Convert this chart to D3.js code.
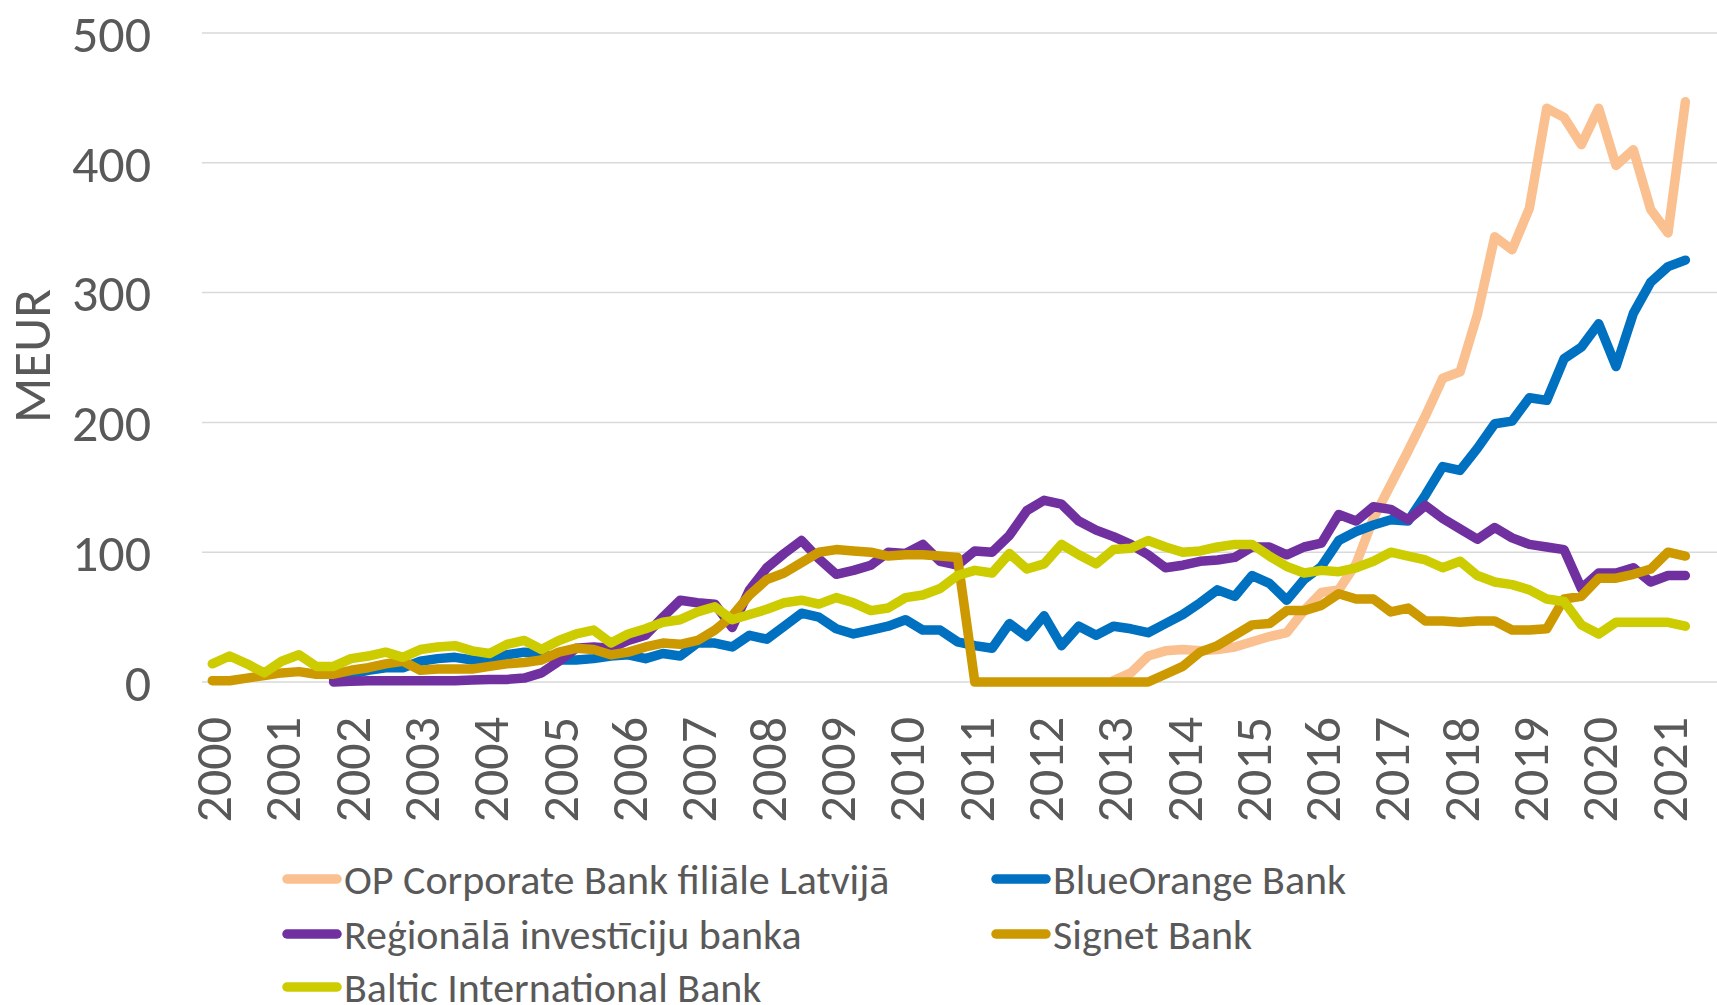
<!DOCTYPE html>
<html>
<head>
<meta charset="utf-8">
<script src="https://cdn.jsdelivr.net/npm/d3@7"></script>
<style>
  html, body { margin: 0; padding: 0; background: #fff; }
  svg text { font-family: Carlito, Lato, "Open Sans", sans-serif; fill: #595959; }
</style>
</head>
<body>
<div id="content"></div>
<script>
// quarterly data, 2000 Q1 .. 2021 Q2 (null = no data)
var years = d3.range(2000, 2022);
var yTicks = [0, 100, 200, 300, 400, 500];
var seriesNames = ['OP Corporate Bank filiāle Latvijā', 'BlueOrange Bank', 'Reģionālā investīciju banka', 'Signet Bank', 'Baltic International Bank'];
var seriesColors = ['#FAC090', '#0070C0', '#7030A0', '#CC9900', '#CCCC00'];

var opCorporate = [
    null, null, null, null, null, null, null, null, null, null, null, null, null, null, null, null,
    null, null, null, null, null, null, null, null, null, null, null, null, null, null, null, null,
    null, null, null, null, null, null, null, null, null, null, null, null, null, null, null, null,
    null, null, null, null, 1, 7, 20, 24, 25, 24, 25, 27, 31, 35, 38, 55,
    69, 71, 91, 126, 152, 178, 205, 234, 239, 283, 343, 333, 365, 442, 435, 414,
    442, 398, 410, 364, 346, 447
];
var blueOrange = [
    null, null, null, null, null, null, null, 2, 6, 9, 11, 11, 16, 18, 19, 17,
    16, 21, 23, 22, 17, 17, 18, 20, 21, 18, 22, 20, 30, 30, 27, 36,
    33, 43, 53, 50, 41, 37, 40, 43, 48, 40, 40, 31, 28, 26, 45, 35,
    51, 28, 43, 36, 43, 41, 38, 45, 52, 61, 71, 66, 82, 76, 63, 79,
    89, 109, 116, 121, 125, 124, 144, 166, 163, 180, 199, 201, 219, 217, 249, 258,
    276, 243, 284, 308, 320, 325
];
var regionala = [
    null, null, null, null, null, null, null, 0, 0.5, 1, 1, 1, 1, 1, 1, 1.5,
    2, 2, 3, 7, 16, 26, 27, 26, 32, 36, 50, 63, 61, 60, 42, 71,
    88, 99, 109, 95, 83, 86, 90, 100, 99, 106, 93, 90, 101, 100, 113, 132,
    140, 137, 124, 117, 112, 106, 98, 88, 90, 93, 94, 96, 104, 104, 98, 104,
    107, 129, 124, 135, 133, 125, 136, 126, 118, 110, 119, 111, 106, 104, 102, 72,
    84, 84, 88, 77, 82, 82
];
var signet = [
    1, 1, 3, 5, 7, 8, 6, 6, 9, 11, 14, 16, 9, 10, 10, 10,
    12, 14, 15, 17, 23, 26, 25, 21, 23, 27, 30, 29, 32, 40, 51, 67,
    79, 84, 92, 100, 102, 101, 100, 97, 98, 98, 97, 96, 0, 0, 0, 0,
    0, 0, 0, 0, 0, 0, 0, 6, 12, 23, 28, 36, 44, 45, 55, 55,
    59, 68, 64, 64, 54, 57, 47, 47, 46, 47, 47, 40, 40, 41, 64, 66,
    80, 80, 83, 87, 100, 97
];
var baltic = [
    14, 20, 14, 7, 16, 21, 12, 12, 18, 20, 23, 19, 25, 27, 28, 24,
    22, 29, 32, 25, 32, 37, 40, 30, 37, 41, 46, 48, 54, 58, 48, 52,
    56, 61, 63, 60, 65, 61, 55, 57, 65, 67, 72, 82, 86, 84, 99, 87,
    91, 106, 98, 91, 102, 103, 109, 104, 100, 101, 104, 106, 106, 97, 89, 84,
    86, 85, 88, 93, 100, 97, 94, 88, 93, 82, 77, 75, 71, 64, 62, 44,
    37, 46, 46, 46, 46, 43
];
var allSeries = [opCorporate, blueOrange, regionala, signet, baltic];

// category axis: one slot per quarter
var quarters = [];
years.forEach(function(y) {
    for (var q = 1; q <= 4; q++) quarters.push(y + 'Q' + q);
});
quarters = quarters.slice(0, opCorporate.length);

var width = 1717, height = 1005;
var svg = d3.select('#content').append('svg')
    .attr('width', width)
    .attr('height', height);

var x = d3.scalePoint()
    .domain(quarters)
    .range([212.3, 212.3 + 17.33 * (quarters.length - 1)]);
var y = d3.scaleLinear()
    .domain([0, 500])
    .range([682, 33]);

// gridlines
svg.selectAll('line.grid')
    .data(yTicks)
    .enter().append('line')
    .attr('class', 'grid')
    .attr('x1', 202)
    .attr('x2', width)
    .attr('y1', function(d) { return y(d); })
    .attr('y2', function(d) { return y(d); })
    .attr('stroke', '#D9D9D9')
    .attr('stroke-width', 1.5);

// y tick labels
svg.selectAll('text.ytick')
    .data(yTicks)
    .enter().append('text')
    .attr('class', 'ytick')
    .attr('x', 151)
    .attr('y', function(d) { return y(d); })
    .attr('dy', '0.36em')
    .attr('text-anchor', 'end')
    .style('font-size', '52px')
    .text(function(d) { return d; });

// y axis title
svg.append('text')
    .attr('transform', 'translate(31,356) rotate(-90)')
    .attr('text-anchor', 'middle')
    .attr('dy', '0.36em')
    .style('font-size', '53px')
    .text('MEUR');

// x tick labels (one per year, at Q1)
svg.selectAll('text.xtick')
    .data(years)
    .enter().append('text')
    .attr('class', 'xtick')
    .attr('transform', function(d) {
        return 'translate(' + x(d + 'Q1') + ',717) rotate(-90)';
    })
    .attr('text-anchor', 'end')
    .attr('dy', '0.36em')
    .style('font-size', '52px')
    .text(function(d) { return d; });

// lines
var line = d3.line()
    .defined(function(d) { return d != null; })
    .x(function(d, i) { return x(quarters[i]); })
    .y(function(d) { return y(d); });

svg.selectAll('path.series')
    .data(allSeries)
    .enter().append('path')
    .attr('class', 'series')
    .attr('d', line)
    .attr('fill', 'none')
    .attr('stroke', function(d, i) { return seriesColors[i]; })
    .attr('stroke-width', 9.5)
    .attr('stroke-linejoin', 'round')
    .attr('stroke-linecap', 'round');

// legend, two columns
var legendX = [287, 996];
var legendY = [879, 934, 987];
var legend = svg.selectAll('g.legend')
    .data(seriesNames)
    .enter().append('g')
    .attr('class', 'legend')
    .attr('transform', function(d, i) {
        return 'translate(' + legendX[i % 2] + ',' + legendY[Math.floor(i / 2)] + ')';
    });

legend.append('line')
    .attr('x1', 0)
    .attr('x2', 50)
    .attr('stroke', function(d, i) { return seriesColors[i]; })
    .attr('stroke-width', 9.5)
    .attr('stroke-linecap', 'round');

legend.append('text')
    .attr('x', 57)
    .attr('dy', '0.36em')
    .style('font-size', '42px')
    .text(function(d) { return d; });
</script>
</body>
</html>
